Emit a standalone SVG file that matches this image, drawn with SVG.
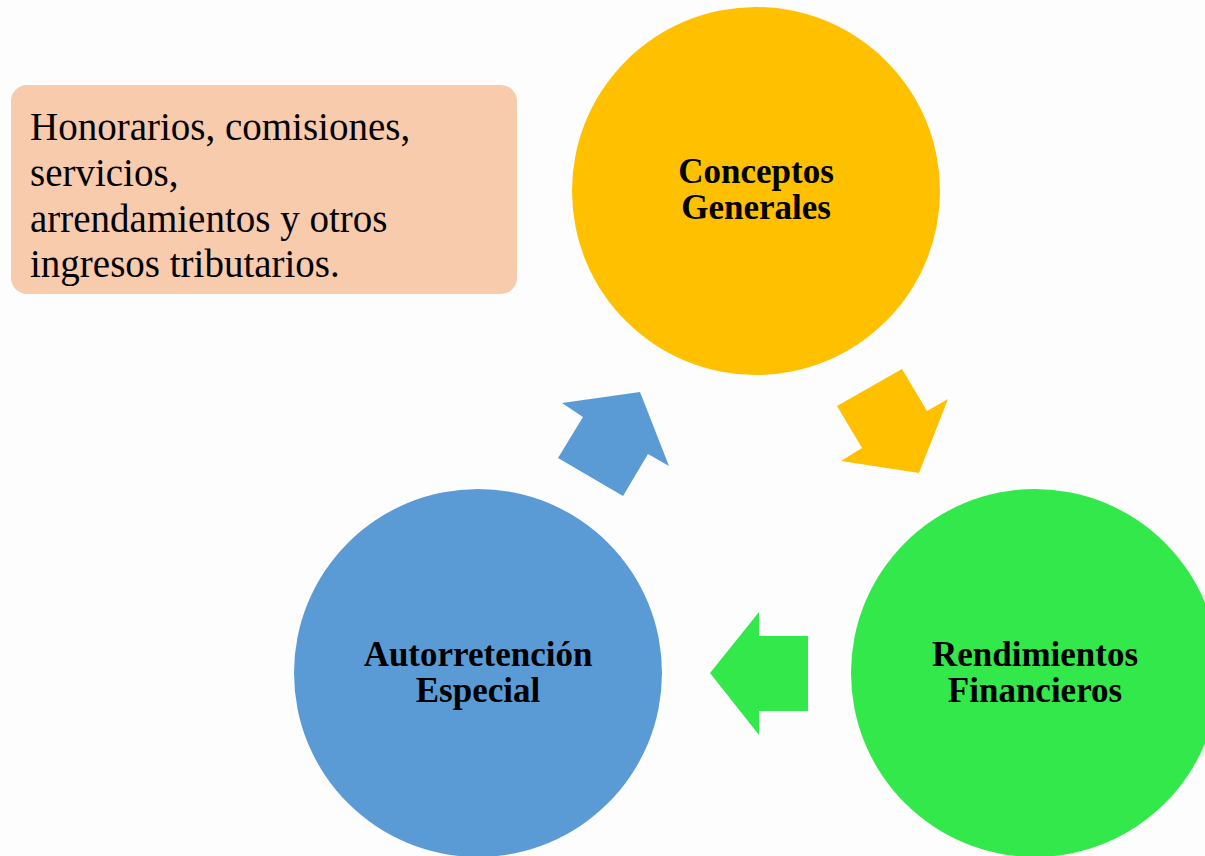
<svg xmlns="http://www.w3.org/2000/svg" width="1205" height="856" viewBox="0 0 1205 856">
  <style>
    .lbl { font-family: "Liberation Serif", "Times New Roman", serif; font-weight: bold; font-size: 35px; fill: #000; text-anchor: middle; }
    .note { font-family: "Liberation Serif", "Times New Roman", serif; font-size: 39px; fill: #000; }
  </style>
  <rect x="0" y="0" width="1205" height="856" fill="#fdfdfd"/>
  <g id="note">
    <rect x="11" y="85" width="506" height="209" rx="16" ry="16" fill="#f8cbad"/>
    <text class="note" x="30" y="140">Honorarios, comisiones,</text>
    <text class="note" x="30" y="186">servicios,</text>
    <text class="note" x="30" y="232">arrendamientos y otros</text>
    <text class="note" x="30" y="277">ingresos tributarios.</text>
  </g>
  <g id="connectors">
    <polygon id="arrow-yellow" fill="#ffc000" points="837,406 902,369 927,411 948,399 919,473 841,461 862,448"/>
    <polygon id="arrow-green" fill="#33e84a" points="710,673 759,612 759,636 808,636 808,711 759,711 759,735"/>
    <polygon id="arrow-blue" fill="#5b9bd5" points="640,392 669,466 648,454 623,496 558,458 583,417 562,403"/>
  </g>
  <g id="conceptos">
    <circle cx="756" cy="191" r="184" fill="#ffc000"/>
    <text class="lbl" x="756" y="183">Conceptos</text>
    <text class="lbl" x="756" y="219">Generales</text>
  </g>
  <g id="rendimientos">
    <circle cx="1035" cy="673" r="184" fill="#33e84a"/>
    <text class="lbl" x="1035" y="666">Rendimientos</text>
    <text class="lbl" x="1035" y="702">Financieros</text>
  </g>
  <g id="autorretencion">
    <circle cx="478" cy="673" r="184" fill="#5b9bd5"/>
    <text class="lbl" x="478" y="666">Autorretención</text>
    <text class="lbl" x="478" y="702">Especial</text>
  </g>
</svg>
